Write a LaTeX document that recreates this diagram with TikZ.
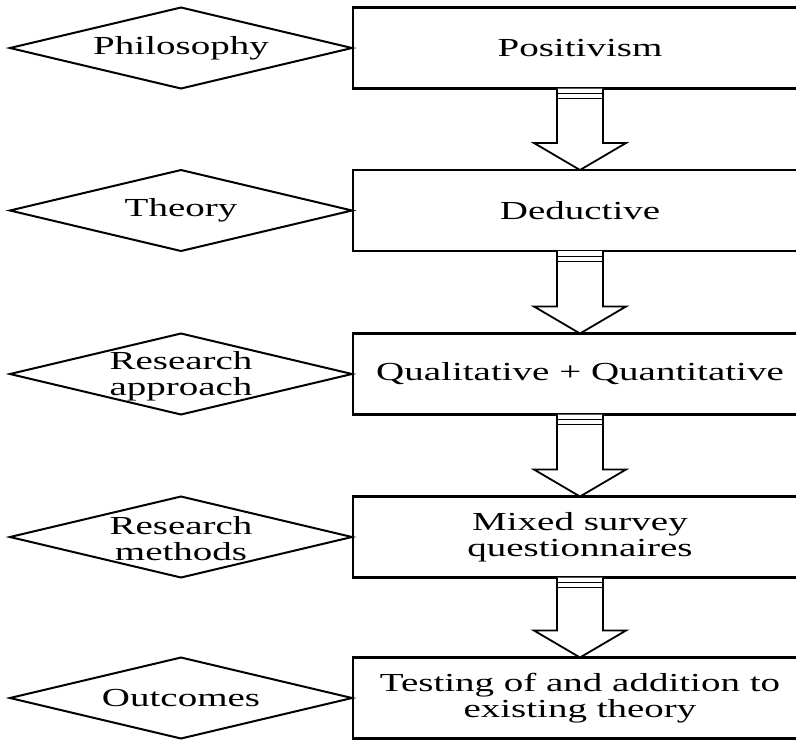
\documentclass[tikz,border=0pt]{standalone}
\usepackage{fontspec}
\setmainfont[FakeStretch=1.5]{Liberation Serif}
\usetikzlibrary{positioning, calc, shapes.geometric}
\tikzset{
	box/.style={draw, line width=2.6pt, rectangle, minimum width=454pt, minimum height=81pt, inner sep=0pt, outer sep=0pt, align=center},
	dia/.style={draw, line width=2pt, diamond, minimum width=342pt, minimum height=81pt, inner sep=0pt, outer sep=0pt},
	blockarrow/.style={line width=1.8pt, fill=white, line join=miter},
}
\newcommand{\fatarrow}[2]{%
	\draw[blockarrow] ($(#1.south)+(-23,0)$) -- ($(#2.north)+(-23,27)$) -- ($(#2.north)+(-46,27)$) -- (#2.north) -- ($(#2.north)+(46,27)$) -- ($(#2.north)+(23,27)$) -- ($(#1.south)+(23,0)$);
	\draw[line width=0.8pt] ($(#1.south)+(-23,-5)$) -- ($(#1.south)+(23,-5)$) ($(#1.south)+(-23,-10)$) -- ($(#1.south)+(23,-10)$);
}

\begin{document}
\begin{tikzpicture}[x=1pt, y=1pt]
	\fontsize{26}{26}\selectfont
	\useasboundingbox (0,0) rectangle (796,-740);
	% boxes
	\node[box] (posit_b) at (580,-48) {Positivism};
	\node[box] (deduct_b) at (580,-210.5) {Deductive};
	\node[box] (qual_b) at (580,-374) {Qualitative + Quantitative};
	\node[box] (mixed_b) at (580,-537) {Mixed survey\\questionnaires};
	\node[box] (test_b) at (580,-698) {Testing of and addition to\\existing theory};

	% diamonds
	\node[dia, label={[align=center]center:Philosophy}] (philo_d) at (181,-48) {};
	\node[dia, label={[align=center]center:Theory}] (theory_d) at (181,-210.5) {};
	\node[dia, label={[align=center, yshift=-2pt]center:Research\\approach}] (approach_d) at (181,-374) {};
	\node[dia, label={[align=center, yshift=-2pt]center:Research\\methods}] (methods_d) at (181,-537) {};
	\node[dia, label={[align=center]center:Outcomes}] (outcome_d) at (181,-698) {};

	% arrows
	\fatarrow{posit_b}{deduct_b}
	\fatarrow{deduct_b}{qual_b}
	\fatarrow{qual_b}{mixed_b}
	\fatarrow{mixed_b}{test_b}
\end{tikzpicture}
\end{document}
